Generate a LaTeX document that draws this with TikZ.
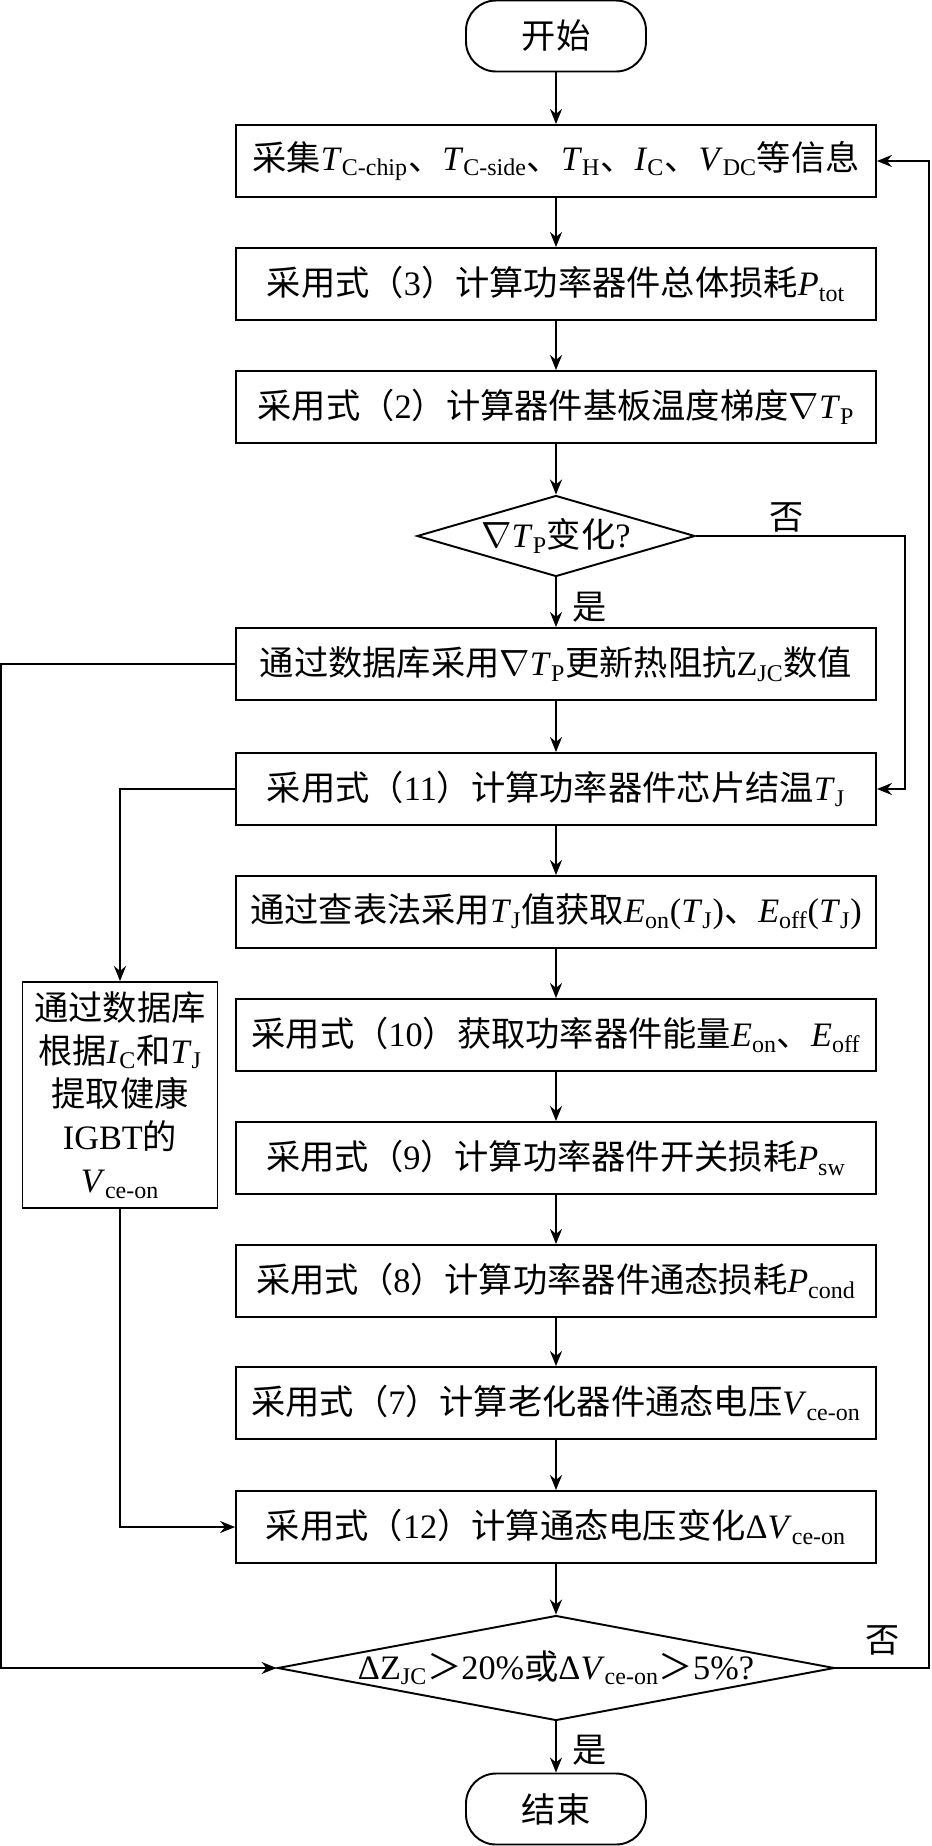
\documentclass[tikz,border=0pt]{standalone}
\usepackage{fontspec}
\setmainfont{Liberation Serif}
\newfontfamily\zhfont{Noto Sans CJK SC}
\usetikzlibrary{shapes.geometric,arrows.meta}
\newcommand{\zh}[1]{{\zhfont #1}}
\newcommand{\vsub}[2]{\textit{#1}\textsubscript{#2}}

\begin{document}
\begin{tikzpicture}[x=0.02cm, y=-0.02cm,
    font=\fontsize{19.5}{24.5}\selectfont, line width=1.1pt,
    proc/.style={draw, rectangle, minimum width=12.8cm, minimum height=1.44cm, inner sep=0pt},
    term/.style={draw, rounded corners=0.6cm, minimum width=3.6cm, minimum height=1.42cm, inner sep=0pt},
    decide/.style={draw, diamond, inner sep=0pt},
    arr/.style={-{Stealth[length=3mm,width=2.4mm]}},
    tag/.style={inner sep=1pt}]

\useasboundingbox (0,0) rectangle (931,1846);

% ── Inicio y adquisición ──────────────────────────────────────
\node[term] (start) at (556,36) {\zh{开始}};
\node[proc] (b1) at (556,161)
    {\zh{采集}\vsub{T}{C-chip}\zh{、}\vsub{T}{C-side}\zh{、}\vsub{T}{H}\zh{、}\vsub{I}{C}\zh{、}\vsub{V}{DC}\zh{等信息}};
\node[proc] (b2) at (556,284) {\zh{采用式（}3\zh{）计算功率器件总体损耗}\vsub{P}{tot}};
\node[proc] (b3) at (556,407) {\zh{采用式（}2\zh{）计算器件基板温度梯度}$\nabla$\vsub{T}{P}};

% ── Decisión del gradiente ────────────────────────────────────
\node[decide, minimum width=5.56cm, minimum height=1.62cm] (d1) at (556,536)
    {\makebox[0pt]{$\nabla$\vsub{T}{P}\zh{变化}?}};
\node[proc] (b4) at (556,664) {\zh{通过数据库采用}$\nabla$\vsub{T}{P}\zh{更新热阻抗}Z\textsubscript{JC}\zh{数值}};
\node[proc] (b5) at (556,789) {\zh{采用式（}11\zh{）计算功率器件芯片结温}\vsub{T}{J}};

% ── Pérdidas ──────────────────────────────────────────────────
\node[proc] (b6) at (556,912)
    {\zh{通过查表法采用}\vsub{T}{J}\zh{值获取}\vsub{E}{on}(\vsub{T}{J})\zh{、}\vsub{E}{off}(\vsub{T}{J})};
\node[proc] (b7) at (556,1035) {\zh{采用式（}10\zh{）获取功率器件能量}\vsub{E}{on}\zh{、}\vsub{E}{off}};
\node[proc] (b8) at (556,1158) {\zh{采用式（}9\zh{）计算功率器件开关损耗}\vsub{P}{sw}};
\node[proc] (b9) at (556,1281) {\zh{采用式（}8\zh{）计算功率器件通态损耗}\vsub{P}{cond}};
\node[proc] (b10) at (556,1403) {\zh{采用式（}7\zh{）计算老化器件通态电压}\vsub{V}{ce-on}};
\node[proc] (b11) at (556,1527) {\zh{采用式（}12\zh{）计算通态电压变化}Δ\vsub{V}{ce-on}};

% rama izquierda: IGBT sano
\node[draw, align=center, minimum width=3.9cm, minimum height=4.52cm, inner sep=0pt] (lbox) at (120,1095)
    {\zh{通过数据库}\\\zh{根据}\vsub{I}{C}\zh{和}\vsub{T}{J}\\\zh{提取健康}\\IGBT\zh{的}\\\vsub{V}{ce-on}};

% ── Decisión final y fin ──────────────────────────────────────
\node[decide, minimum width=11.14cm, minimum height=2.1cm] (d2) at (556,1668)
    {\makebox[0pt]{ΔZ\textsubscript{JC}\zh{＞}20\%\zh{或}Δ\vsub{V}{ce-on}\zh{＞}5\%?}};
\node[term] (stop) at (556,1809) {\zh{结束}};

% etiquetas sí / no
\node[tag] (no1) at (787,517) {\zh{否}};
\node[tag] (yes1) at (590,607) {\zh{是}};
\node[tag] (no2) at (883,1640) {\zh{否}};
\node[tag] (yes2) at (590,1750) {\zh{是}};

% ── Flechas ───────────────────────────────────────────────────
\foreach \a/\b in {start/b1, b1/b2, b2/b3, b3/d1, d1/b4, b4/b5, b5/b6, b6/b7,
                   b7/b8, b8/b9, b9/b10, b10/b11, b11/d2, d2/stop}
    \draw[arr] (\a) -- (\b);

\draw[arr] (d1.east) -- ++(209,0) |- (b5.east);
\draw[arr] (d2.east) -- ++(94,0) |- (b1.east);
\draw[arr] (b4.west) -- ++(-234,0) |- (d2.west);
\draw[arr] (b5.west) -| (lbox.north);
\draw[arr] (lbox.south) |- (b11.west);

\end{tikzpicture}
\end{document}
